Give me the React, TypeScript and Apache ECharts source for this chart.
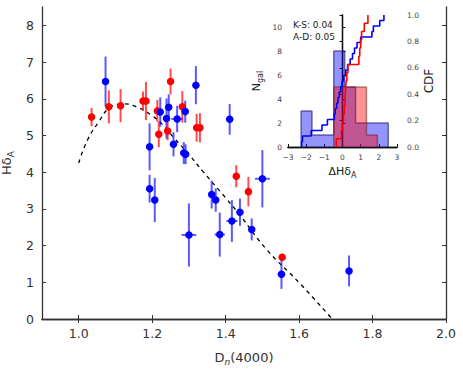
import React, { useEffect, useRef } from 'react';
import * as echarts from 'echarts';

// ---- main panel data ----
const blueDn = [1.073, 1.193, 1.222, 1.239, 1.245, 1.268, 1.290, 1.258, 1.286, 1.291, 1.319, 1.411, 1.193, 1.207, 1.362, 1.373, 1.300, 1.384, 1.417, 1.439, 1.471, 1.500, 1.552, 1.736];
const blueHd = [6.47, 4.69, 5.64, 5.46, 5.77, 5.45, 5.65, 4.76, 4.52, 4.49, 6.37, 5.44, 3.55, 3.24, 3.39, 3.24, 2.29, 2.30, 2.67, 2.91, 2.44, 3.82, 1.22, 1.31];
const blueHdErr = [0.68, 0.64, 0.40, 0.55, 0.35, 0.36, 0.30, 0.33, 0.30, 0.27, 0.52, 0.42, 0.38, 0.60, 0.38, 0.32, 0.86, 0.60, 0.57, 0.37, 0.30, 0.78, 0.40, 0.42];
const blueDnErr = [0.008, 0.005, 0.005, 0.005, 0.005, 0.016, 0.005, 0.005, 0.005, 0.005, 0.005, 0.005, 0.005, 0.005, 0.005, 0.005, 0.02, 0.014, 0.015, 0.005, 0.005, 0.02, 0.01, 0.008];

const redDn = [1.035, 1.082, 1.114, 1.175, 1.183, 1.214, 1.218, 1.250, 1.242, 1.282, 1.321, 1.330, 1.429, 1.462, 1.554];
const redHd = [5.50, 5.78, 5.81, 5.94, 5.94, 5.67, 5.03, 6.47, 5.12, 5.78, 5.21, 5.21, 3.89, 3.47, 1.68];
const redHdErr = [0.25, 0.45, 0.45, 0.26, 0.52, 0.30, 0.35, 0.35, 0.25, 0.43, 0.38, 0.40, 0.30, 0.40, 0.10];

const fitDn = [1.0, 1.025, 1.057, 1.08, 1.1, 1.121, 1.157, 1.198, 1.23, 1.257, 1.3, 1.339, 1.4, 1.439, 1.511, 1.602, 1.69];
const fitHd = [4.25, 4.90, 5.41, 5.73, 5.83, 5.86, 5.78, 5.55, 5.28, 4.96, 4.48, 4.01, 3.30, 2.83, 1.90, 0.97, 0.0];

const mainXTicks = [1.0, 1.2, 1.4, 1.6, 1.8, 2.0];
const mainYTicks = [0, 1, 2, 3, 4, 5, 6, 7, 8];

// ---- inset data ----
const binEdges = [-2.28, -1.68, -1.08, -0.48, 0.12, 0.72, 1.32, 1.92, 2.52];
const blueCounts = [3, 1, 1, 8, 5, 2, 2, 2];
const redCounts = [0, 0, 0, 5, 5, 5, 1, 0];
const blueDelta = [-2.25, -2.2, -1.72, -1.13, -0.83, -0.45, -0.4, -0.32, -0.25, -0.18, -0.1, -0.02, 0.06, 0.18, 0.28, 0.42, 0.55, 0.66, 0.8, 1.0, 1.62, 1.7, 2.05, 2.28];
const redDelta = [-0.34, -0.06, 0.0, 0.05, 0.1, 0.14, 0.17, 0.2, 0.24, 0.3, 0.9, 0.95, 1.0, 1.05, 1.2, 1.4];
const insetXTicks = [-3, -2, -1, 0, 1, 2, 3];
const insetNTicks = [0, 2, 4, 6, 8, 10];
const insetCdfTicks = [0, 0.2, 0.4, 0.6, 0.8, 1.0];

const FONT = 'DejaVu Sans';
const AX = '#333';

function histPoints(counts: number[]) {
  let a = 0;
  while (a < counts.length && counts[a] === 0) a++;
  let b = counts.length - 1;
  while (b >= 0 && counts[b] === 0) b--;
  const pts: number[][] = [[binEdges[a], 0]];
  for (let i = a; i <= b; i++) {
    pts.push([binEdges[i], counts[i]]);
    pts.push([binEdges[i + 1], counts[i]]);
  }
  pts.push([binEdges[b + 1], 0]);
  return pts;
}

function cdfPoints(vals: number[]) {
  const n = vals.length;
  const pts: number[][] = [[vals[0], 0]];
  vals.forEach((v, i) => pts.push([v, (i + 1) / n]));
  return pts;
}

function errSeries(xs: number[], ys: number[], ey: number[], ex: number[] | null, color: string, opacity: number, z: number) {
  return {
    type: 'custom',
    xAxisIndex: 0,
    yAxisIndex: 0,
    z,
    silent: true,
    encode: { x: 0, y: 1 },
    data: xs.map((x, i) => [x, ys[i], ey[i], ex ? ex[i] : 0]),
    renderItem: (params: any, api: any) => {
      const x = api.value(0), y = api.value(1), e = api.value(2), h = api.value(3);
      const p0 = api.coord([x, y - e]);
      const p1 = api.coord([x, y + e]);
      const q0 = api.coord([x - h, y]);
      const q1 = api.coord([x + h, y]);
      const st = { stroke: color, lineWidth: 2, opacity };
      return {
        type: 'group',
        children: [
          { type: 'line', shape: { x1: p0[0], y1: p0[1], x2: p1[0], y2: p1[1] }, style: st },
          { type: 'line', shape: { x1: q0[0], y1: q0[1], x2: q1[0], y2: q1[1] }, style: st },
        ],
      };
    },
  };
}

const subRich = (main: number, sub: number, color: string) => ({
  n: { fontSize: main, fontFamily: FONT, color, lineHeight: main + 5 },
  s: { fontSize: sub, fontFamily: FONT, color, lineHeight: sub + 1, verticalAlign: 'bottom' },
  i: { fontSize: sub, fontFamily: FONT, color, fontStyle: 'italic', lineHeight: sub + 1, verticalAlign: 'bottom' },
});

export default function App() {
  const ref = useRef<HTMLDivElement>(null);
  useEffect(() => {
    if (!ref.current) return;
    const chart = echarts.init(ref.current, null, { renderer: 'svg' });
    const axisLine = { show: true, lineStyle: { color: AX, width: 1.3 } };
    const insetLine = { show: true, lineStyle: { color: '#111', width: 1.3 } };
    const option: any = {
      animation: false,
      backgroundColor: '#fff',
      grid: [
        { left: 42, right: 17, top: 7, bottom: 50, outerBoundsMode: 'none', containLabel: false },
        { left: 288, right: 66, top: 15, bottom: 222, show: true, backgroundColor: '#fff', borderWidth: 0, z: 10, outerBoundsMode: 'none', containLabel: false },
      ],
      xAxis: [
        {
          gridIndex: 0, type: 'value', min: 0.9, max: 2.0, position: 'bottom',
          axisLine, splitLine: { show: false },
          axisTick: { inside: true, length: 4, customValues: mainXTicks, lineStyle: { color: AX } },
          axisLabel: { customValues: mainXTicks, formatter: (v: number) => v.toFixed(1), fontSize: 12.5, fontFamily: FONT, color: AX, margin: 8 },
          name: '{n|D}{i|n}{n|(4000)}', nameLocation: 'middle', nameGap: 29,
          nameTextStyle: { rich: subRich(13, 9, AX) },
        },
        {
          gridIndex: 0, type: 'value', min: 0.9, max: 2.0, position: 'top',
          axisLine, splitLine: { show: false },
          axisTick: { inside: true, length: 4, customValues: mainXTicks, lineStyle: { color: AX } },
          axisLabel: { show: false },
        },
        {
          gridIndex: 1, type: 'value', min: -3, max: 3, position: 'bottom', z: 12,
          axisLine: insetLine, splitLine: { show: false },
          axisTick: { inside: true, length: 3, customValues: insetXTicks, lineStyle: { color: '#111' } },
          axisLabel: { customValues: insetXTicks, formatter: (v: number) => (v < 0 ? '\u2212' + Math.abs(v) : String(v)), fontSize: 7.5, fontFamily: FONT, color: '#444', margin: 6 },
          name: '{n|\u0394H\u03b4}{s|A}', nameLocation: 'middle', nameGap: 16,
          nameTextStyle: { rich: subRich(11, 8, '#222') },
        },
        {
          gridIndex: 1, type: 'value', min: -3, max: 3, position: 'top', z: 12,
          axisLine: insetLine, splitLine: { show: false },
          axisTick: { show: false },
          axisLabel: { show: false },
        },
      ],
      yAxis: [
        {
          gridIndex: 0, type: 'value', min: 0, max: 8.5, position: 'left',
          axisLine, splitLine: { show: false },
          axisTick: { inside: true, length: 4, customValues: mainYTicks, lineStyle: { color: AX } },
          axisLabel: { customValues: mainYTicks, fontSize: 12.5, fontFamily: FONT, color: AX, margin: 8 },
          name: '{n|H\u03b4}{s|A}', nameLocation: 'middle', nameGap: 18,
          nameTextStyle: { rich: subRich(13, 9, AX) },
        },
        {
          gridIndex: 0, type: 'value', min: 0, max: 8.5, position: 'right',
          axisLine, splitLine: { show: false },
          axisTick: { inside: true, length: 4, customValues: mainYTicks, lineStyle: { color: AX } },
          axisLabel: { show: false },
        },
        {
          gridIndex: 1, type: 'value', min: 0, max: 11, position: 'left', z: 12,
          axisLine: insetLine, splitLine: { show: false },
          axisTick: { inside: true, length: 3, customValues: insetNTicks, lineStyle: { color: '#111' } },
          axisLabel: { customValues: insetNTicks, fontSize: 7.5, fontFamily: FONT, color: '#444', margin: 6 },
          name: '{n|N}{s|gal}', nameLocation: 'middle', nameGap: 24,
          nameTextStyle: { rich: subRich(11, 8, '#222') },
        },
        {
          gridIndex: 1, type: 'value', min: 0, max: 1, position: 'right', z: 12,
          axisLine: insetLine, splitLine: { show: false },
          axisTick: { inside: true, length: 3, customValues: insetCdfTicks, lineStyle: { color: '#111' } },
          axisLabel: { customValues: insetCdfTicks, formatter: (v: number) => v.toFixed(1), fontSize: 7.5, fontFamily: FONT, color: '#444', margin: 10 },
          name: 'CDF', nameLocation: 'middle', nameGap: 23, nameRotate: 90,
          nameTextStyle: { fontSize: 12, fontFamily: FONT, color: '#222' },
        },
      ],
      graphic: [
        { type: 'text', left: 293, top: 20, z: 30, style: { text: 'K-S: 0.04', fontSize: 9, fontFamily: FONT, fill: '#222' } },
        { type: 'text', left: 293, top: 32, z: 30, style: { text: 'A-D: 0.05', fontSize: 9, fontFamily: FONT, fill: '#222' } },
      ],
      series: [
        {
          type: 'line', xAxisIndex: 0, yAxisIndex: 0, z: 1, smooth: true, showSymbol: false, silent: true,
          data: fitDn.map((x, i) => [x, fitHd[i]]),
          lineStyle: { color: '#000', width: 1.3, type: [4, 4] },
        },
        errSeries(blueDn, blueHd, blueHdErr, blueDnErr, '#0000ff', 0.65, 2),
        errSeries(redDn, redHd, redHdErr, null, '#ff0000', 0.7, 2),
        {
          type: 'scatter', xAxisIndex: 0, yAxisIndex: 0, z: 3, symbolSize: 7.5, silent: true,
          data: redDn.map((x, i) => [x, redHd[i]]), itemStyle: { color: '#ff0000', opacity: 1 },
        },
        {
          type: 'scatter', xAxisIndex: 0, yAxisIndex: 0, z: 3, symbolSize: 7.5, silent: true,
          data: blueDn.map((x, i) => [x, blueHd[i]]), itemStyle: { color: '#0000ff', opacity: 1 },
        },
        {
          type: 'line', xAxisIndex: 2, yAxisIndex: 2, z: 13, showSymbol: false, silent: true,
          data: histPoints(blueCounts),
          lineStyle: { color: 'rgba(30,30,110,0.6)', width: 1.5 },
          areaStyle: { color: 'rgba(0,0,255,0.42)', opacity: 1 },
        },
        {
          type: 'line', xAxisIndex: 2, yAxisIndex: 2, z: 14, showSymbol: false, silent: true,
          data: histPoints(redCounts),
          lineStyle: { color: 'rgba(110,30,30,0.5)', width: 1.5 },
          areaStyle: { color: 'rgba(255,0,0,0.42)', opacity: 1 },
        },
        {
          type: 'line', xAxisIndex: 2, yAxisIndex: 3, z: 15, showSymbol: false, silent: true, step: 'end',
          data: cdfPoints(blueDelta), lineStyle: { color: '#0000ff', width: 1.6 },
        },
        {
          type: 'line', xAxisIndex: 2, yAxisIndex: 3, z: 16, showSymbol: false, silent: true, step: 'end',
          data: cdfPoints(redDelta), lineStyle: { color: '#ff0000', width: 1.6 },
        },
      ],
    };
    chart.setOption(option);
    return () => chart.dispose();
  }, []);
  return <div ref={ref} style={{ width: 463, height: 369, position: 'absolute', left: 0, top: 0 }} />;
}
